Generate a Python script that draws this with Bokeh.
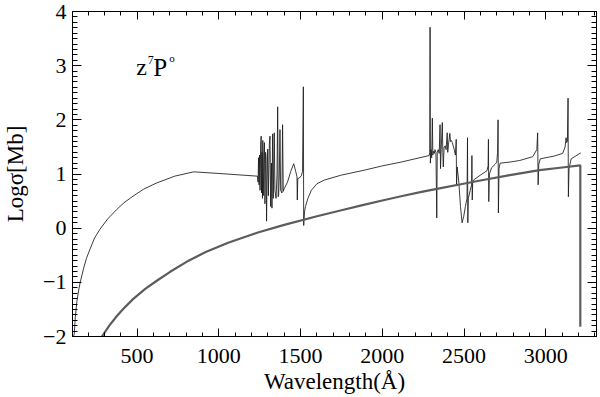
from bokeh.plotting import figure
from bokeh.models import LinearAxis, FixedTicker, Label, Range1d, CustomLabelingPolicy
from bokeh.embed import file_html
from bokeh.resources import INLINE

# ---- data ----
# thin curve: computed photoionization cross section (log10 sigma [Mb])
wl_thin = [106, 116, 122, 132, 142, 152, 173, 190, 213, 240, 273, 320, 374, 420, 475, 540, 616, 730, 846, 1000, 1236,
           1240, 1243, 1246, 1249, 1252, 1256, 1259, 1261, 1264, 1267, 1269, 1272, 1276,
           1279, 1282, 1286, 1289, 1292, 1295, 1299, 1303, 1309, 1313, 1317, 1322, 1325,
           1329, 1333, 1339, 1343, 1350, 1356, 1360, 1363, 1366, 1370, 1374, 1378, 1386,
           1390, 1394, 1400, 1420, 1440, 1458, 1470, 1478, 1480, 1483, 1490, 1505, 1512,
           1517, 1519, 1524, 1530, 1545, 1566, 1600, 1647, 1750, 1889, 2000, 2115, 2200,
           2286, 2290, 2292, 2294, 2298, 2302, 2306, 2309, 2313, 2318, 2322, 2328, 2333,
           2336, 2342, 2348, 2353, 2356, 2360, 2367, 2370, 2373, 2378, 2385, 2390, 2397,
           2400, 2405, 2413, 2417, 2422, 2428, 2440, 2447, 2452, 2454, 2458, 2468, 2478,
           2488, 2498, 2508, 2518, 2521, 2523, 2526, 2538, 2546, 2548, 2550, 2553, 2558,
           2600, 2640, 2647, 2649, 2651, 2655, 2669, 2690, 2700, 2705, 2708, 2710, 2714,
           2720, 2780, 2841, 2920, 2945, 2950, 2953, 2957, 2966, 3050, 3103, 3118, 3124,
           3127, 3132, 3136, 3138, 3142, 3155, 3214]
logsig_thin = [-2.05, -1.95, -1.65, -1.35, -1.16, -1.0, -0.74, -0.56, -0.38, -0.18, -0.02, 0.17, 0.34, 0.47, 0.59, 0.72, 0.83, 0.96, 1.04, 1.01, 0.96,
               0.85, 1.30, 0.80, 1.35, 0.70, 1.55, 1.70, 0.65, 1.40, 0.55, 1.62, 0.60, 1.35,
               1.58, 0.45, 1.40, 1.30, 0.13, 0.90, 1.46, 0.60, 1.55, 1.70, 0.40, 1.20, 0.37,
               1.74, 0.55, 1.76, 0.70, 0.55, 1.00, 2.24, 0.58, 0.62, 1.00, 1.82, 0.70, 0.65,
               1.91, 0.68, 0.73, 0.85, 1.05, 1.19, 1.05, 0.95, 0.52, 0.92, 0.92, 0.97, 1.05,
               2.61, 0.05, 0.30, 0.40, 0.55, 0.70, 0.82, 0.89, 0.98, 1.07, 1.15, 1.22, 1.28,
               1.34, 1.40, 3.71, 1.20, 1.45, 1.30, 2.03, 1.35, 1.42, 1.38, 1.45, 1.40, 0.19,
               1.40, 1.45, 1.38, 1.91, 1.10, 1.45, 1.95, 1.40, 1.13, 1.50, 1.52, 1.45, 1.76,
               1.40, 1.55, 1.75, 1.60, 1.62, 1.58, 1.45, 1.35, 1.64, 0.80, 1.13, 0.85, 0.40,
               0.10, 0.22, 0.40, 0.55, 1.67, 0.10, 0.55, 0.70, 0.80, 1.34, 0.52, 0.86, 0.89,
               0.98, 1.06, 1.15, 1.64, 0.49, 1.00, 1.12, 1.18, 1.22, 1.40, 2.00, 0.28, 1.10,
               1.20, 1.22, 1.25, 1.32, 1.45, 1.76, 0.80, 1.18, 1.28, 1.33, 1.38, 1.50, 1.67,
               1.58, 1.60, 2.40, 0.58, 1.10, 1.28, 1.39]

# thick curve: comparison cross section
wl_thick = [285, 330, 374, 412, 475, 550, 616, 700, 815, 920, 1057, 1239, 1400, 1600,
            1750, 1873, 2000, 2115, 2240, 2357, 2480, 2600, 2780, 2962, 3100, 3211, 3211]
logsig_thick = [-2.0, -1.80, -1.63, -1.50, -1.31, -1.12, -0.98, -0.81, -0.60, -0.44, -0.27,
                -0.08, 0.06, 0.22, 0.33, 0.42, 0.51, 0.59, 0.67, 0.74, 0.81, 0.88, 0.98,
                1.07, 1.12, 1.16, -1.82]

x_ticks = [500, 1000, 1500, 2000, 2500, 3000]
x_minor = [w for w in range(200, 3400, 100)]
y_ticks = [-2, -1, 0, 1, 2, 3, 4]
y_minor = [v / 10 for v in range(-20, 41)]
y_tick_labels = {-2: "\u22122", -1: "\u22121"}

FONT = "Liberation Serif"
X0, X1, Y0, Y1 = 105, 3310, -2, 4

p = figure(width=600, height=397, x_range=Range1d(X0, X1), y_range=Range1d(Y0, Y1),
           output_backend="svg", toolbar_location=None,
           min_border_left=68, min_border_right=3, min_border_top=11, min_border_bottom=61)
p.grid.visible = False
p.outline_line_color = "black"
p.outline_line_width = 1
p.background_fill_color = "white"
p.border_fill_color = "white"

p.line(wl_thin, logsig_thin, line_color="#1a1a1a", line_width=0.85)
p.line(wl_thick, logsig_thick, line_color="#5c5c5c", line_width=2.2)


def style(ax, major_in, minor_in):
    ax.axis_line_color = "black"
    ax.major_tick_in = major_in
    ax.major_tick_out = 0
    ax.minor_tick_in = minor_in
    ax.minor_tick_out = 0
    ax.major_tick_line_color = "black"
    ax.minor_tick_line_color = "black"


hide_labels = CustomLabelingPolicy(code="""
try { for (let i = 0; i < indices.size; i++) { indices.unset(i) } } catch (e) {}
return indices
""")

xa = p.xaxis[0]
xa.ticker = FixedTicker(ticks=x_ticks, minor_ticks=x_minor)
style(xa, 8, 4)
xa.major_label_text_font = FONT
xa.major_label_text_font_size = "22px"
xa.major_label_text_color = "black"
xa.major_label_standoff = 12
xa.axis_label = "Wavelength(\u00c5)"
xa.axis_label_text_font = FONT
xa.axis_label_text_font_size = "23px"
xa.axis_label_text_font_style = "normal"
xa.axis_label_text_color = "black"
xa.axis_label_standoff = 3

ya = p.yaxis[0]
ya.ticker = FixedTicker(ticks=y_ticks, minor_ticks=y_minor)
style(ya, 9, 5)
ya.major_label_overrides = y_tick_labels
ya.major_label_text_font = FONT
ya.major_label_text_font_size = "22px"
ya.major_label_text_color = "black"
ya.major_label_standoff = 6
ya.axis_label = "Log\u03c3[Mb]"
ya.axis_label_text_font = FONT
ya.axis_label_text_font_size = "23px"
ya.axis_label_text_font_style = "normal"
ya.axis_label_text_color = "black"
ya.axis_label_standoff = 12

top = LinearAxis(ticker=FixedTicker(ticks=x_ticks, minor_ticks=x_minor),
                 major_label_text_font_size="1px", major_label_standoff=0,
                 major_label_policy=hide_labels)
style(top, 8, 4)
p.add_layout(top, "above")
right = LinearAxis(ticker=FixedTicker(ticks=y_ticks, minor_ticks=y_minor),
                   major_label_text_font_size="1px", major_label_standoff=0,
                   major_label_policy=hide_labels)
style(right, 9, 5)
p.add_layout(right, "right")

# term label z^7P^o
lx, ly = 495, 2.97
p.add_layout(Label(x=lx, y=ly, text="z", text_font=FONT, text_font_size="24px",
                   text_color="black", text_baseline="alphabetic"))
p.add_layout(Label(x=lx, y=ly, x_offset=11.5, y_offset=7, text="7", text_font=FONT,
                   text_font_size="12px", text_color="black", text_baseline="alphabetic"))
p.add_layout(Label(x=lx, y=ly, x_offset=17, text="P", text_font=FONT, text_font_size="25px",
                   text_color="black", text_baseline="alphabetic"))
p.add_layout(Label(x=lx, y=ly, x_offset=33, y_offset=9, text="o", text_font=FONT,
                   text_font_size="11px", text_color="black", text_baseline="alphabetic"))

open("out.html", "w").write(file_html(p, INLINE))
